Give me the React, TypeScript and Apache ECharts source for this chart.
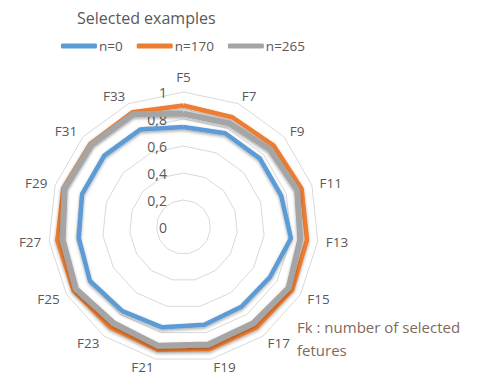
import React, { useEffect, useRef } from "react";
import * as echarts from "echarts";

const features = ["F5", "F7", "F9", "F11", "F13", "F15", "F17", "F19", "F21", "F23", "F25", "F27", "F29", "F31", "F33"];
const n0 = [0.74, 0.76, 0.76, 0.76, 0.8, 0.74, 0.73, 0.74, 0.76, 0.77, 0.8, 0.78, 0.79, 0.79, 0.79];
const n170 = [0.9, 0.89, 0.9, 0.92, 0.92, 0.93, 0.92, 0.925, 0.93, 0.92, 0.94, 0.94, 0.935, 0.925, 0.93];
const n265 = [0.84, 0.84, 0.86, 0.885, 0.87, 0.9, 0.88, 0.89, 0.9, 0.88, 0.92, 0.9, 0.925, 0.915, 0.915];
const seriesNames = ["n=0", "n=170", "n=265"];
const colors = ["#5b9bd5", "#ed7d31", "#a5a5a5"];

// ECharts radar runs counter-clockwise; reorder so the chart reads clockwise.
const cw = <T,>(arr: T[]): T[] => [arr[0], ...arr.slice(1).reverse()];

const FONT = "'Open Sans', sans-serif";
const TXT = "#595959";

export default function App() {
  const ref = useRef<HTMLDivElement>(null);
  useEffect(() => {
    if (!ref.current) return;
    const chart = echarts.init(ref.current, undefined, { renderer: "svg" });
    const values = [n0, n170, n265];
    chart.setOption({
      animation: false,
      backgroundColor: "#ffffff",
      title: {
        text: "Selected examples",
        left: 72,
        top: 5,
        textStyle: { color: TXT, fontSize: 16, fontWeight: "normal", fontFamily: FONT },
      },
      legend: {
        data: seriesNames,
        left: 56,
        top: 34,
        itemWidth: 36,
        itemHeight: 5,
        itemGap: 14,
        icon: "roundRect",
        textStyle: { color: TXT, fontSize: 13.5, fontFamily: FONT, padding: [0, 0, 0, -3] },
      },
      grid: { left: 174, top: 92, height: 135, width: 1 },
      xAxis: { type: "value", show: false },
      yAxis: {
        type: "value",
        min: 0,
        max: 1,
        interval: 0.2,
        axisLine: { show: false },
        axisTick: { show: false },
        splitLine: { show: false },
        axisLabel: {
          margin: 7,
          color: TXT,
          fontSize: 14,
          fontFamily: FONT,
          formatter: (v: number) => String(+v.toFixed(1)).replace(".", ","),
        },
      },
      radar: {
        center: [183.5, 227],
        radius: 135,
        startAngle: 90,
        shape: "polygon",
        splitNumber: 5,
        nameGap: 8,
        indicator: cw(features).map((name) => ({ name, min: 0, max: 1 })),
        axisName: { color: TXT, fontSize: 13.5, fontFamily: FONT },
        splitLine: { lineStyle: { color: "#d9d9d9", width: 1 } },
        splitArea: { show: false },
        axisLine: { show: false },
        axisTick: { show: false },
        axisLabel: { show: false },
      },
      series: [
        {
          type: "radar",
          symbol: "none",
          data: seriesNames.map((name, i) => ({
            name,
            value: cw(values[i]),
            lineStyle: {
              color: colors[i],
              width: i === 2 ? 6 : 4.5,
              shadowColor: "rgba(0,0,0,0.35)",
              shadowBlur: 3,
              shadowOffsetY: 1.5,
            },
            itemStyle: { color: colors[i] },
          })),
        },
      ],
      graphic: [
        {
          type: "text",
          left: 297,
          top: 315,
          style: {
            text: "Fk : number of selected\nfetures",
            fill: "#7f6a5c",
            fontSize: 15,
            lineHeight: 23,
            fontFamily: FONT,
          },
        },
      ],
    });
    return () => chart.dispose();
  }, []);
  return (
    <div
      ref={ref}
      style={{ position: "absolute", left: 0, top: 0, width: 480, height: 386 }}
    />
  );
}
